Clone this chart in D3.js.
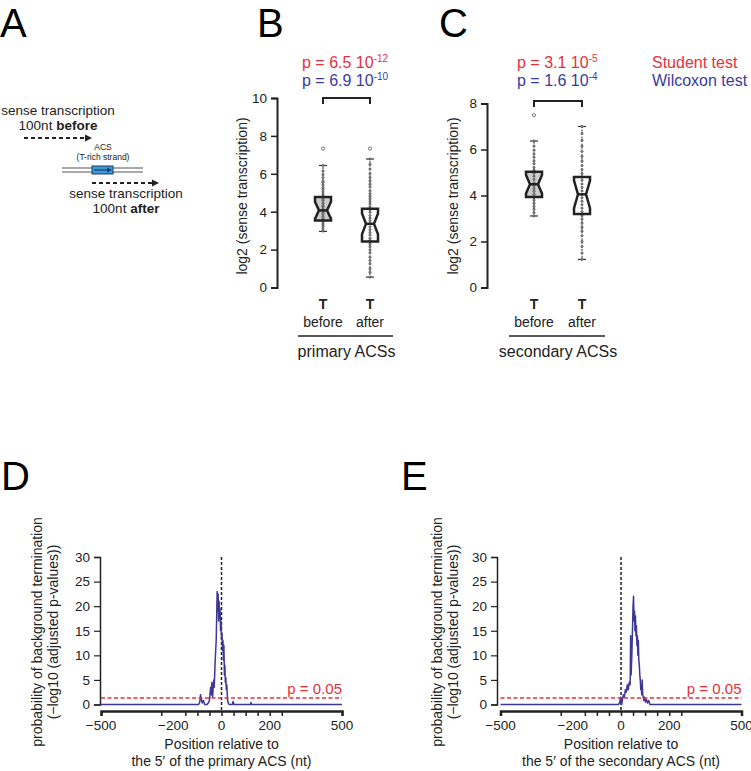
<!DOCTYPE html>
<html>
<head>
<meta charset="utf-8">
<script src="https://cdn.jsdelivr.net/npm/d3@7"></script>
<style>
body { margin:0; padding:0; background:#fff; }
text { font-family: "Liberation Sans", Arial, sans-serif; }
</style>
</head>
<body>
<script>
// ---- data ----
var groups = ["before", "after"];

// whisker low, q1, median, q3, whisker high
var statsB = [[2.96, 3.54, 4.07, 4.77, 6.44], [0.55, 2.43, 3.36, 4.16, 6.78]];
var statsC = [[3.11, 3.94, 4.49, 5.03, 6.37], [1.22, 3.20, 4.05, 4.80, 7.00]];
var notchB = [0.45, 0.55];
var notchC = [0.40, 0.60];
var outB = [[7.33], [7.33]];
var outC = [[7.49], []];

// individual points drawn along each box
var ptsBbefore = [2.98, 3.1, 3.22, 3.31, 3.4, 3.52, 3.63, 3.72, 3.85, 3.93, 4.02, 4.14, 4.26, 4.33, 4.45, 4.58, 4.66, 4.8, 4.93, 5.05, 5.18, 5.27, 5.41, 5.55, 5.62, 5.8, 5.96, 6.15, 6.44];
var ptsBafter = [0.55, 0.8, 1.0, 1.25, 1.42, 1.6, 1.83, 1.98, 2.15, 2.3, 2.48, 2.6, 2.77, 2.9, 3.05, 3.2, 3.38, 3.52, 3.66, 3.8, 3.97, 4.1, 4.25, 4.4, 4.53, 4.68, 4.82, 4.95, 5.1, 5.3, 5.45, 5.62, 5.8, 6.0, 6.25, 6.5, 6.78];
var ptsCbefore = [3.11, 3.25, 3.4, 3.52, 3.66, 3.8, 3.92, 4.05, 4.18, 4.3, 4.42, 4.55, 4.7, 4.84, 4.97, 5.1, 5.22, 5.38, 5.5, 5.66, 5.8, 5.97, 6.15, 6.37];
var ptsCafter = [1.22, 1.5, 1.78, 2.0, 2.25, 2.45, 2.62, 2.8, 2.97, 3.12, 3.3, 3.45, 3.6, 3.75, 3.9, 4.05, 4.2, 4.35, 4.5, 4.66, 4.8, 4.95, 5.12, 5.3, 5.5, 5.7, 5.92, 6.15, 6.4, 6.7, 7.0];

var pStudent = [["6.5", "-12"], ["3.1", "-5"]];
var pWilcox = [["6.9", "-10"], ["1.6", "-4"]];

// termination profiles
var posD = [-500, -95, -90, -87, -84, -80, -75, -70, -60, -55, -50, -47, -45, -42, -40, -37, -35, -32, -30, -27, -25, -22, -20, -18, -16, -14, -12, -10, -8, -6, -4, -2, 0, 2, 4, 6, 8, 10, 12, 14, 16, 18, 20, 22, 25, 28, 32, 45, 48, 52, 120, 122, 125, 500];
var valD = [0, 0, 0.5, 2, 1.2, 0.3, 0.8, 0, 0, 0.3, 0.8, 2.5, 3.5, 2, 4.5, 1.5, 3, 5, 3.5, 8, 10, 13, 18, 23, 19, 22.5, 17, 21, 18, 19.5, 15, 17, 13.5, 14.5, 11, 13, 9, 12, 6, 8, 4.5, 5.5, 3, 4, 1, 0.3, 0, 0, 0.6, 0, 0, 0.4, 0, 0];
var posE = [-500, -10, -5, -2, 0, 3, 6, 10, 14, 18, 22, 26, 30, 34, 38, 40, 42, 45, 48, 50, 52, 54, 56, 58, 60, 62, 64, 66, 68, 70, 72, 74, 76, 78, 80, 82, 84, 86, 88, 90, 92, 95, 98, 102, 106, 110, 115, 120, 500];
var valE = [0, 0, 0.5, 1.5, 0.8, 0, 1, 2, 1.5, 3, 2.5, 4, 3, 4.5, 4, 14, 6, 10, 16, 20, 22, 17, 19, 15, 18, 14, 16, 12, 14, 10, 13, 9, 8, 6, 5, 3, 4, 2, 5, 2, 1.5, 0.8, 1.5, 0.5, 1, 0.3, 0.8, 0, 0];

var xTickMarks = [-500, -250, -150, -100, -50, 0, 50, 100, 150, 200, 250, 500];
var xTickLabels = [-500, -200, 0, 200, 500];
var yTicksProfile = [0, 5, 10, 15, 20, 25, 30];
var pThreshold = 1.3; // -log10(0.05)

var red = "#e3323b", blue = "#3b3b9c", lineBlue = "#3d3796";

var svg = d3.select("body").append("svg")
	.attr("width", 751)
	.attr("height", 771);

// panel letters
[["A", 0, 37], ["B", 257, 37], ["C", 439, 37], ["D", 1, 490], ["E", 401, 490]].forEach(function(l) {
	svg.append("text").attr("x", l[1]).attr("y", l[2])
		.style("font-size", "40px").text(l[0]);
});

// ---- panel A: schematic ----
function dashedArrow(x1, x2, y) {
	svg.append("line").attr("x1", x1).attr("x2", x2 - 6).attr("y1", y).attr("y2", y)
		.attr("stroke", "#222").attr("stroke-width", 2).attr("stroke-dasharray", "4,3");
	svg.append("path").attr("d", "M" + (x2 - 7) + "," + (y - 3.5) + "L" + x2 + "," + y + "L" + (x2 - 7) + "," + (y + 3.5) + "Z")
		.attr("fill", "#222");
}
function centered(txt, x, y, size, boldPart) {
	var t = svg.append("text").attr("x", x).attr("y", y).attr("text-anchor", "middle")
		.style("font-size", size + "px").attr("fill", "#222");
	t.append("tspan").text(txt);
	if (boldPart) t.append("tspan").style("font-weight", "bold").text(boldPart);
}
centered("sense transcription", 58, 115, 13.5);
centered("100nt ", 58, 130, 13.5, "before");
dashedArrow(24, 92, 138);
centered("ACS", 103, 150, 8.5);
centered("(T-rich strand)", 103, 160, 8.5);
svg.append("line").attr("x1", 62).attr("x2", 143).attr("y1", 168).attr("y2", 168).attr("stroke", "#555").attr("stroke-width", 1);
svg.append("line").attr("x1", 62).attr("x2", 143).attr("y1", 172).attr("y2", 172).attr("stroke", "#555").attr("stroke-width", 1);
svg.append("rect").attr("x", 92).attr("y", 166).attr("width", 21).attr("height", 8)
	.attr("fill", "#3b9bd6").attr("stroke", "#1d3b66").attr("stroke-width", 1);
svg.append("line").attr("x1", 94).attr("x2", 108).attr("y1", 170).attr("y2", 170).attr("stroke", "#1d3b66").attr("stroke-width", 1.2);
svg.append("path").attr("d", "M107,167.5L112,170L107,172.5Z").attr("fill", "#1d3b66");
dashedArrow(92, 159, 183);
centered("sense transcription", 126, 198, 13.5);
centered("100nt ", 126, 213, 13.5, "after");

// ---- panels B and C: notched box plots ----
function boxPanel(opt) {
	var y = d3.scaleLinear().domain([0, opt.ymax]).range([287.5, opt.ytop]);
	var x = d3.scalePoint().domain(groups).range(opt.xs);
	var g = svg.append("g");

	g.append("g").attr("transform", "translate(" + opt.axisX + ",0)")
		.call(d3.axisLeft(y).tickValues(opt.yticks).tickSize(6).tickPadding(4))
		.call(function(a) {
			a.select(".domain").attr("stroke", "#222").attr("stroke-width", 2);
			a.selectAll(".tick line").attr("stroke", "#222").attr("stroke-width", 1.5);
			a.selectAll(".tick text").style("font-size", "13.5px").attr("fill", "#222")
				.style("font-family", "Liberation Sans, Arial, sans-serif");
		});

	g.append("text").attr("transform", "translate(" + opt.labelX + ",196) rotate(-90)")
		.attr("text-anchor", "middle").style("font-size", "14px").attr("fill", "#222")
		.text("log2 (sense transcription)");

	groups.forEach(function(name, i) {
		var s = opt.stats[i], cx = x(name), hw = 8, inset = 4;
		var nTop = y(s[2] + opt.notch[i]), nBot = y(s[2] - opt.notch[i]), m = y(s[2]);
		// whiskers
		[[s[3], s[4]], [s[1], s[0]]].forEach(function(w) {
			g.append("line").attr("x1", cx).attr("x2", cx).attr("y1", y(w[0])).attr("y2", y(w[1]))
				.attr("stroke", "#333").attr("stroke-width", 1).attr("stroke-dasharray", "2,1.5");
			g.append("line").attr("x1", cx - 4).attr("x2", cx + 4).attr("y1", y(w[1])).attr("y2", y(w[1]))
				.attr("stroke", "#333").attr("stroke-width", 1.2);
		});
		var path = d3.path();
		path.moveTo(cx - hw, y(s[3])); path.lineTo(cx + hw, y(s[3]));
		path.lineTo(cx + hw, nTop); path.lineTo(cx + hw - inset, m); path.lineTo(cx + hw, nBot);
		path.lineTo(cx + hw, y(s[1])); path.lineTo(cx - hw, y(s[1]));
		path.lineTo(cx - hw, nBot); path.lineTo(cx - hw + inset, m); path.lineTo(cx - hw, nTop);
		path.closePath();
		g.append("path").attr("d", path.toString())
			.attr("fill", i === 0 ? "#cdcdcd" : "#fff").attr("stroke", "none");
		g.selectAll(null).data(opt.pts[i]).enter().append("circle")
			.attr("cx", cx).attr("cy", function(d) { return y(d); }).attr("r", 1.2)
			.attr("fill", "#888").attr("stroke", "#444").attr("stroke-width", 0.5);
		g.append("path").attr("d", path.toString()).attr("fill", "none")
			.attr("stroke", "#222").attr("stroke-width", 2.5).attr("stroke-linejoin", "miter");
		g.append("line").attr("x1", cx - hw + inset).attr("x2", cx + hw - inset).attr("y1", m).attr("y2", m)
			.attr("stroke", "#222").attr("stroke-width", 2.5);
		g.selectAll(null).data(opt.out[i]).enter().append("circle")
			.attr("cx", cx).attr("cy", function(d) { return y(d); }).attr("r", 1.6)
			.attr("fill", "#fff").attr("stroke", "#555").attr("stroke-width", 0.8);

		g.append("text").attr("x", cx).attr("y", 309).attr("text-anchor", "middle")
			.style("font-size", "14px").style("font-weight", "bold").attr("fill", "#222").text("T");
		g.append("text").attr("x", cx).attr("y", 327).attr("text-anchor", "middle")
			.style("font-size", "14px").attr("fill", "#222").text(name);
	});

	g.append("line").attr("x1", opt.xs[0] - 25).attr("x2", opt.xs[1] + 23).attr("y1", 336).attr("y2", 336)
		.attr("stroke", "#222").attr("stroke-width", 1.5);
	g.append("text").attr("x", (opt.xs[0] + opt.xs[1]) / 2).attr("y", 357).attr("text-anchor", "middle")
		.style("font-size", "16px").attr("fill", "#222").text(opt.title);

	// significance bracket
	g.append("path").attr("d", "M" + opt.xs[0] + "," + (opt.bracketY + 6) + "V" + opt.bracketY + "H" + opt.xs[1] + "V" + (opt.bracketY + 6))
		.attr("fill", "none").attr("stroke", "#222").attr("stroke-width", 2);

	[[opt.pS, red, 68], [opt.pW, blue, 86]].forEach(function(p) {
		var t = g.append("text").attr("x", opt.pX).attr("y", p[2]).style("font-size", "16px").attr("fill", p[1]);
		t.append("tspan").text("p = " + p[0][0] + " 10");
		t.append("tspan").attr("dy", -6).style("font-size", "10px").text(p[0][1]);
	});
}

boxPanel({ ymax: 10, ytop: 98, yticks: [0, 2, 4, 6, 8, 10], axisX: 277, labelX: 247, xs: [323, 370],
	stats: statsB, notch: notchB, out: outB, pts: [ptsBbefore, ptsBafter],
	title: "primary ACSs", bracketY: 98, pS: pStudent[0], pW: pWilcox[0], pX: 302 });
boxPanel({ ymax: 8, ytop: 103.5, yticks: [0, 2, 4, 6, 8], axisX: 487, labelX: 458, xs: [534, 582],
	stats: statsC, notch: notchC, out: outC, pts: [ptsCbefore, ptsCafter],
	title: "secondary ACSs", bracketY: 101, pS: pStudent[1], pW: pWilcox[1], pX: 517 });

svg.append("text").attr("x", 652).attr("y", 68).style("font-size", "16px").attr("fill", red).text("Student test");
svg.append("text").attr("x", 652).attr("y", 86).style("font-size", "16px").attr("fill", blue).text("Wilcoxon test");

// ---- panels D and E: termination profiles ----
function profilePanel(opt) {
	var x = d3.scaleLinear().domain([-500, 500]).range([opt.x0, opt.x0 + 241]);
	var y = d3.scaleLinear().domain([0, 30]).range([704.5, 557]);
	var g = svg.append("g");
	var axisY = 711;

	g.append("g").attr("transform", "translate(" + opt.axisX + ",0)")
		.call(d3.axisLeft(y).tickValues(yTicksProfile).tickSize(6).tickPadding(4))
		.call(function(a) {
			a.select(".domain").attr("stroke", "#222").attr("stroke-width", 1.5);
			a.selectAll(".tick line").attr("stroke", "#222").attr("stroke-width", 1.2);
			a.selectAll(".tick text").style("font-size", "13.5px").attr("fill", "#222")
				.style("font-family", "Liberation Sans, Arial, sans-serif");
		});

	g.append("g").attr("transform", "translate(0," + axisY + ")")
		.call(d3.axisBottom(x).tickValues(xTickMarks).tickSize(5).tickFormat(""))
		.call(function(a) {
			a.select(".domain").attr("stroke", "#222").attr("stroke-width", 2.5);
			a.selectAll(".tick line").attr("stroke", "#222").attr("stroke-width", 1.5);
		});
	g.selectAll(null).data(xTickLabels).enter().append("text")
		.attr("x", function(d) { return x(d); }).attr("y", 730).attr("text-anchor", "middle")
		.style("font-size", "13.5px").attr("fill", "#222")
		.text(function(d) { return d < 0 ? "\u2212" + Math.abs(d) : d; });

	g.append("line").attr("x1", x(0)).attr("x2", x(0)).attr("y1", y(30)).attr("y2", axisY - 1)
		.attr("stroke", "#222").attr("stroke-width", 1.5).attr("stroke-dasharray", "3,2");

	var line = d3.line().x(function(d) { return x(d[0]); }).y(function(d) { return y(d[1]); });
	g.append("path").datum(d3.zip(opt.pos, opt.val)).attr("d", line)
		.attr("fill", "none").attr("stroke", lineBlue).attr("stroke-width", 1.5).attr("stroke-linejoin", "round");

	g.append("line").attr("x1", x(-500)).attr("x2", x(500)).attr("y1", y(pThreshold)).attr("y2", y(pThreshold))
		.attr("stroke", red).attr("stroke-width", 1.5).attr("stroke-dasharray", "4,2.5");
	g.append("text").attr("x", x(500)).attr("y", 694).attr("text-anchor", "end")
		.style("font-size", "15px").attr("fill", red).text("p = 0.05");

	g.append("text").attr("transform", "translate(" + opt.labX + ",632) rotate(-90)")
		.attr("text-anchor", "middle").style("font-size", "14px").attr("fill", "#222")
		.text("probability of background termination");
	g.append("text").attr("transform", "translate(" + (opt.labX + 16) + ",632) rotate(-90)")
		.attr("text-anchor", "middle").style("font-size", "14px").attr("fill", "#222")
		.text("(\u2212log10 (adjusted p-values))");

	g.append("text").attr("x", x(0)).attr("y", 749).attr("text-anchor", "middle")
		.style("font-size", "14px").attr("fill", "#222").text("Position relative to");
	g.append("text").attr("x", x(0)).attr("y", 766).attr("text-anchor", "middle")
		.style("font-size", "14px").attr("fill", "#222").text(opt.xlab);
}

profilePanel({ x0: 101, axisX: 100, labX: 42, pos: posD, val: valD, xlab: "the 5\u2032 of the primary ACS (nt)" });
profilePanel({ x0: 500.5, axisX: 497, labX: 442, pos: posE, val: valE, xlab: "the 5\u2032 of the secondary ACS (nt)" });
</script>
</body>
</html>
